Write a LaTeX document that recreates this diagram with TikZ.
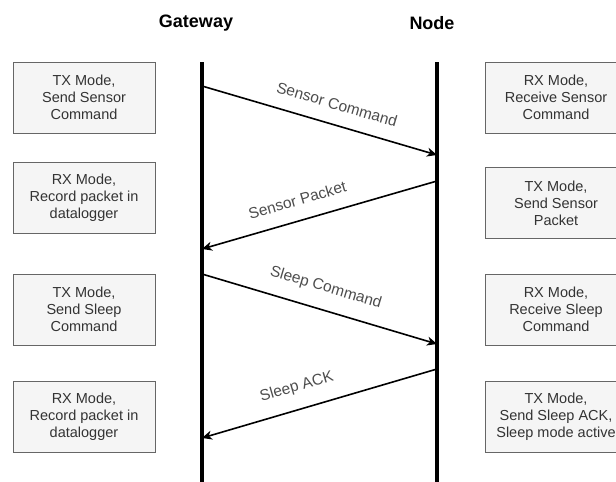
\documentclass[tikz,border=0pt]{standalone}
\usepackage{fontspec}
\setmainfont{Liberation Sans}
\usepackage{tikz}
\usetikzlibrary{arrows.meta, positioning, calc}
\definecolor{boxfill}{HTML}{F5F5F5}
\definecolor{boxline}{HTML}{666666}
\definecolor{boxtext}{HTML}{333333}
\definecolor{msgtext}{HTML}{4D4D4D}

\begin{document}
\begin{tikzpicture}[x=1pt, y=-1pt, >=Stealth,
  modebox/.style={draw=boxline, fill=boxfill, text=boxtext, line width=0.8pt,
                  minimum width=142pt, minimum height=71pt, inner sep=0pt,
                  align=center, font=\fontsize{14.5}{17}\selectfont},
  headlabel/.style={font=\bfseries\fontsize{18}{20}\selectfont},
  lifeline/.style={line width=3.6pt},
  msg/.style={->, line width=1.6pt, arrows={-Stealth[length=10pt, width=9pt, inset=3pt]}},
  msglabel/.style={sloped, above=14pt, inner sep=0pt, text=msgtext,
                   font=\fontsize{15.5}{17}\selectfont}]
  \useasboundingbox (0,0) rectangle (616,482);
  % headers
  \node[headlabel] (gwhead) at (196,23) {Gateway};
  \node[headlabel] (ndhead) at (432,23) {Node};
  % lifelines
  \coordinate (gwtop) at (202,62);
  \coordinate (gwbot) at (202,482);
  \coordinate (ndtop) at (437,62);
  \coordinate (ndbot) at (437,482);
  \draw[lifeline] (gwtop) -- (gwbot);
  \draw[lifeline] (ndtop) -- (ndbot);
  % gateway side
  \node[modebox] (gw1) at (84,97.5) {TX Mode,\\Send Sensor\\Command};
  \node[modebox] (gw2) at (84,197.5) {RX Mode,\\Record packet in\\datalogger};
  \node[modebox] (gw3) at (84,309.5) {TX Mode,\\Send Sleep\\Command};
  \node[modebox] (gw4) at (84,416.5) {RX Mode,\\Record packet in\\datalogger};
  % node side
  \node[modebox] (nd1) at (556,97.5) {RX Mode,\\Receive Sensor\\Command};
  \node[modebox] (nd2) at (556,203) {TX Mode,\\Send Sensor\\Packet};
  \node[modebox] (nd3) at (556,309.5) {RX Mode,\\Receive Sleep\\Command};
  \node[modebox] (nd4) at (556,416.5) {TX Mode,\\Send Sleep ACK,\\Sleep mode active};
  % message end points
  \coordinate (gwa) at (202,86);
  \coordinate (nda) at (437,155);
  \coordinate (ndb) at (437,181);
  \coordinate (gwb) at (202,249);
  \coordinate (gwc) at (202,274);
  \coordinate (ndc) at (437,344);
  \coordinate (ndd) at (437,369);
  \coordinate (gwd) at (202,438);
  % messages
  \draw[msg] (gwa) -- node[msglabel, pos=0.55] {Sensor Command} (nda);
  \draw[msg] (ndb) -- node[msglabel, pos=0.57] {Sensor Packet} (gwb);
  \draw[msg] (gwc) -- node[msglabel, pos=0.5] {Sleep Command} (ndc);
  \draw[msg] (ndd) -- node[msglabel, pos=0.57] {Sleep ACK} (gwd);
\end{tikzpicture}
\end{document}
